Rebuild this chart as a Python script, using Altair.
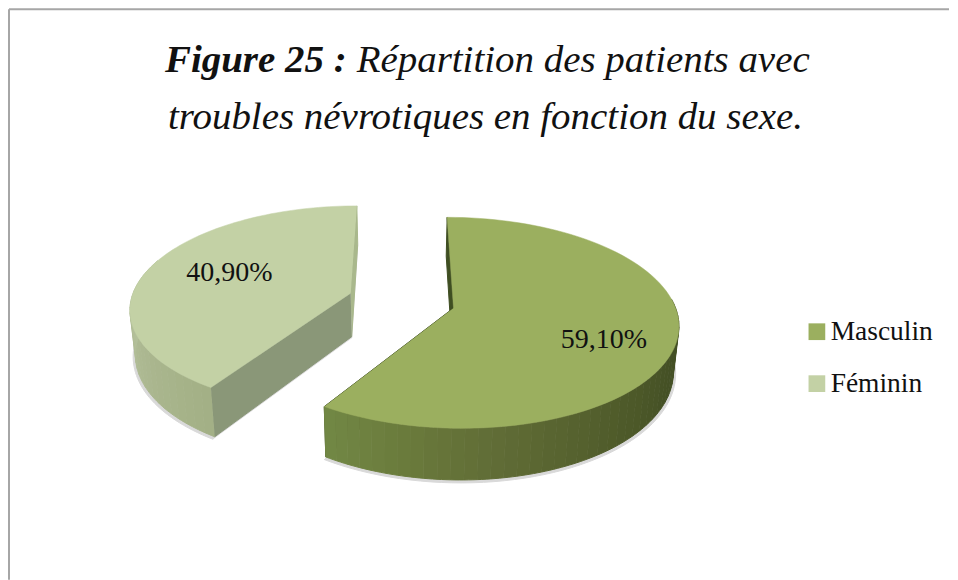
import math
import altair as alt
import pandas as pd

# ---- values
categories = ["Masculin", "Féminin"]
shares = [59.1, 40.9]
share_labels = ["59,10%", "40,90%"]
top_colors = ["#9BAF5F", "#C3D1A5"]
radial_colors = ["#3F4E22", "#8A9778"]
strip_colors = ["#3F4E22", "#A9B88C"]
wall_stops = [
    ([85, 115, 140, 170, 195, 213], ["#435024", "#445025", "#4F5B2A", "#5F6B35", "#6B7C3D", "#728845"]),
    ([213, 235, 260, 290], ["#A3B085", "#AAB68E", "#B2BE98", "#B8C5A0"]),
]
title_bold = "Figure 25 :"
title_rest = "Répartition des patients avec"
title_line2 = "troubles névrotiques en fonction du sexe."

# ---- layout of the projected pie (page pixels)
W, H = 942, 572
PAGE = 8
X0, Y0, A, B, K, DEPTH, SHRINK = 402.0, 300.5, 220.0, 101.4, 0.139, 44.0, 0.98
centres = [(0.234, 0.0733), (-0.234, -0.0733)]
label_pos = [(0.68, 12.0), (0.60, -4.0)]
SERIF = "Liberation Serif"


def project(cu, cv, t, r=1.0, lower=False, dx=0.0, dy=0.0):
    a = math.radians(t)
    u = cu + r * math.sin(a)
    v = cv - r * math.cos(a)
    w = 1 - K * v
    sx = SHRINK if lower else 1.0
    return (
        X0 + sx * A * u / w - PAGE + dx,
        Y0 + B * v / w + (DEPTH / w if lower else 0) - PAGE + dy,
    )


def hexmix(stops, colors, t):
    t = max(stops[0], min(stops[-1], t))
    for i in range(len(stops) - 1):
        if t <= stops[i + 1]:
            f = (t - stops[i]) / (stops[i + 1] - stops[i])
            c0 = [int(colors[i][j:j + 2], 16) for j in (1, 3, 5)]
            c1 = [int(colors[i + 1][j:j + 2], 16) for j in (1, 3, 5)]
            return "#%02X%02X%02X" % tuple(round(a + (b - a) * f) for a, b in zip(c0, c1))
    return colors[-1]


def arc(start, end, n):
    return [start + (end - start) * i / n for i in range(n + 1)]


rows, faces = [], []


def add(group, color, points):
    for i, (x, y) in enumerate(points):
        rows.append({"g": group, "col": color, "i": i, "x": x, "y": y})


spans = [s / sum(shares) * 360 for s in shares]
ranges = [(0.0, spans[0]), (spans[0], 360.0)]

for k, (cat, (t0, t1), (cu, cv)) in enumerate(zip(categories, ranges, centres)):
    sweep = arc(t0, t1, 90)
    # soft shadow under the slice
    shadow = [project(cu, cv, t, 1.01, True, 0, 1.5) for t in sweep] + [project(cu, cv, 0, 0, True, 0, 1.5)]
    add(f"{k}-0-shadow", "#D9D9D9", shadow)
    # radial wall at the slice start (thin strip)
    wall_a = [project(cu, cv, 0, 0), project(cu, cv, 0, 1), project(cu, cv, 0, 1, True), project(cu, cv, 0, 0, True)]
    add(f"{k}-1-strip", strip_colors[k], wall_a)
    # radial wall at the slice boundary
    wall_b = [project(cu, cv, spans[0], 0), project(cu, cv, spans[0], 1), project(cu, cv, spans[0], 1, True), project(cu, cv, spans[0], 0, True)]
    add(f"{k}-2-radial", radial_colors[k], wall_b)
    # curved wall, in narrow shaded bands
    stops, cols = wall_stops[k]
    lo, hi = (85.0, spans[0]) if k == 0 else (spans[0], 290.0)
    n = int((hi - lo) / 3)
    for j in range(n):
        a0, a1 = lo + (hi - lo) * j / n, lo + (hi - lo) * (j + 1) / n
        ts = arc(a0, a1, 3)
        poly = [project(cu, cv, t) for t in ts] + [project(cu, cv, t, 1, True) for t in reversed(ts)]
        add(f"{k}-3-band{j:03d}", hexmix(stops, cols, (a0 + a1) / 2), poly)
    # top face
    top = [project(cu, cv, 0, 0)] + [project(cu, cv, t) for t in sweep]
    for i, (x, y) in enumerate(top):
        faces.append({"cat": cat, "i": i, "x": x, "y": y})

df = pd.DataFrame(rows)
# draw from the back slice to the front one
groups = sorted(df["g"].unique(), key=lambda g: (g[0] != "1", g))

x_s = alt.Scale(domain=[0, W], nice=False, zero=False)
y_s = alt.Scale(domain=[H, 0], nice=False, zero=False)
X = alt.X("x:Q", scale=x_s, axis=None)
Y = alt.Y("y:Q", scale=y_s, axis=None)

layers = []

# chart frame: its top and left borders run off the page
frame = pd.DataFrame([{"x": 1, "y": 1, "x2": W, "y2": 1}, {"x": 1, "y": 1, "x2": 1, "y2": H}])
layers.append(
    alt.Chart(frame).mark_rule(color="#A6A6A6", strokeWidth=2).encode(x=X, y=Y, x2="x2:Q", y2="y2:Q")
)

for g in groups:
    sub = df[df["g"] == g]
    c = sub["col"].iloc[0]
    layers.append(
        alt.Chart(sub).mark_line(fill=c, stroke=c, strokeWidth=1, interpolate="linear").encode(
            x=X, y=Y, order="i:Q"
        )
    )

faces_df = pd.DataFrame(faces)
for cat, col in zip(reversed(categories), reversed(top_colors)):
    sub = faces_df[faces_df["cat"] == cat]
    layers.append(
        alt.Chart(sub).mark_line(fill=col, stroke=col, strokeWidth=0.5).encode(x=X, y=Y, order="i:Q")
    )

# slice labels
lab = []
for k, (txt, (r, dy), (cu, cv)) in enumerate(zip(share_labels, label_pos, centres)):
    mid = sum(ranges[k]) / 2
    x, y = project(cu, cv, mid, r)
    lab.append({"x": x, "y": y + dy, "t": txt})
layers.append(
    alt.Chart(pd.DataFrame(lab)).mark_text(font=SERIF, fontSize=28, color="#111111", baseline="middle", align="center")
    .encode(x=X, y=Y, text="t:N")
)


# title, two runs on the first line
def text_layer(txt, x, y, align, weight, size=39):
    return alt.Chart(pd.DataFrame([{"x": x - PAGE, "y": y - PAGE, "t": txt}])).mark_text(
        font=SERIF, fontSize=size, fontStyle="italic", fontWeight=weight, color="#111111",
        align=align, baseline="alphabetic",
    ).encode(x=X, y=Y, text="t:N")


layers += [
    text_layer(title_bold, 347, 72, "right", "bold"),
    text_layer(title_rest, 357, 72, "left", "normal"),
    text_layer(title_line2, 486, 129, "center", "normal"),
]

# legend
legend_df = pd.DataFrame({"cat": categories, "x": [W / 2] * 2, "y": [H / 2] * 2})
layers.append(
    alt.Chart(legend_df).mark_square(size=225, opacity=0).encode(
        x=X, y=Y,
        fill=alt.Fill("cat:N", sort=categories,
                      scale=alt.Scale(domain=categories, range=top_colors),
                      legend=alt.Legend(title=None, orient="none", legendX=796, legendY=310,
                                        symbolType="square", symbolSize=280, symbolOpacity=1,
                                        symbolStrokeWidth=0, labelFont=SERIF, labelFontSize=27.5,
                                        labelColor="#111111", rowPadding=23, labelOffset=0)),
    )
)

chart = alt.layer(*layers).properties(
    width=W, height=H, padding=0,
).configure_view(stroke=None)

chart.save("out.html", embed_options={"renderer": "svg", "actions": False})
